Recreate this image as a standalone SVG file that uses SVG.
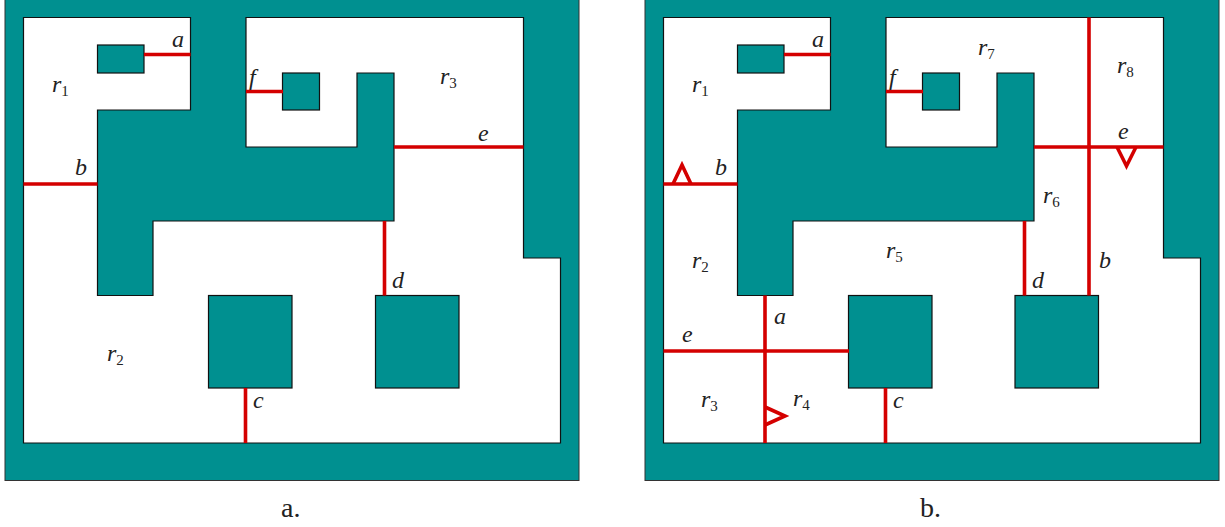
<svg xmlns="http://www.w3.org/2000/svg" width="1225" height="527" viewBox="0 0 1225 527">
<style>
.bg{fill:#009090;stroke:#333;stroke-width:1}
.hole{fill:#fff;stroke:#111;stroke-width:1.2}
.ob{fill:#009090;stroke:#111;stroke-width:1.2}
.c{fill:none;stroke:#d40000;stroke-width:3.6}
text{font-family:"Liberation Serif","Times New Roman",serif;fill:#222}
.m{font-style:italic;font-size:24px}
.s{font-style:normal;font-size:15px}
.cap{font-size:28px}
</style>
<defs>
<path id="free" d="M23.500 17.500H190.500V110H97.500V295.500H153V221H394V73H357V147H246V17.500H523.500V258H560.500V443H23.500Z"/>
</defs>
<g id="panel-a">
<rect class="bg" x="5" y="-2" width="574" height="482.500"/>
<use href="#free" class="hole"/>
<g id="a-o1"><rect class="ob" x="97.500" y="45" width="46.500" height="28"/></g>
<g id="a-o2"><rect class="ob" x="282.500" y="73" width="37" height="37"/></g>
<g id="a-o3"><rect class="ob" x="208.500" y="295.500" width="83.500" height="92.500"/></g>
<g id="a-o4"><rect class="ob" x="375.500" y="295.500" width="83.500" height="92.500"/></g>
</g>
<g id="panel-b">
<rect class="bg" x="645" y="-2" width="574" height="482.500"/>
<use href="#free" class="hole" x="640"/>
<g id="b-o1"><rect class="ob" x="737.500" y="45" width="46.500" height="28"/></g>
<g id="b-o2"><rect class="ob" x="922.500" y="73" width="37" height="37"/></g>
<g id="b-o3"><rect class="ob" x="848.500" y="295.500" width="83.500" height="92.500"/></g>
<g id="b-o4"><rect class="ob" x="1015" y="295.500" width="83.500" height="92.500"/></g>
</g>
<g id="connectors">
<path class="c" d="M144 54.500H190.500M23.500 184H97.500M246 91.500H283M394 147H523.500M384.500 221V295.500M245.500 388V443"/>
<path class="c" d="M784 54.500H830.500M663.500 184H737.500M886 91.500H923M1034 147H1163.500M1024.500 221V295.500M885.500 388V443M765 295.500V443M663.500 351H849M1089 17.500V295.500"/>
<path class="c" d="M673 184L682 165L691 184M765 407L785 416L765 425M1117 147L1126.500 166L1136 147"/>
</g>
<g id="labels-a">
<text class="m" x="172" y="47">a</text>
<text class="m" x="75" y="175">b</text>
<text class="m" x="249" y="85">f</text>
<text class="m" x="478" y="141">e</text>
<text class="m" x="392" y="288">d</text>
<text class="m" x="253" y="408">c</text>
<text class="m" x="52" y="92">r<tspan class="s" dy="4">1</tspan></text>
<text class="m" x="107" y="361">r<tspan class="s" dy="4">2</tspan></text>
<text class="m" x="440" y="84">r<tspan class="s" dy="4">3</tspan></text>
<text class="cap" x="281" y="517">a.</text>
</g>
<g id="labels-b">
<text class="m" x="812" y="47">a</text>
<text class="m" x="715" y="175">b</text>
<text class="m" x="889" y="85">f</text>
<text class="m" x="1118" y="139">e</text>
<text class="m" x="1032" y="288">d</text>
<text class="m" x="893" y="408">c</text>
<text class="m" x="774" y="324">a</text>
<text class="m" x="682" y="342">e</text>
<text class="m" x="1099" y="268">b</text>
<text class="m" x="692" y="92">r<tspan class="s" dy="4">1</tspan></text>
<text class="m" x="692" y="268">r<tspan class="s" dy="4">2</tspan></text>
<text class="m" x="701" y="407">r<tspan class="s" dy="4">3</tspan></text>
<text class="m" x="793" y="406">r<tspan class="s" dy="4">4</tspan></text>
<text class="m" x="886" y="258">r<tspan class="s" dy="4">5</tspan></text>
<text class="m" x="1043" y="203">r<tspan class="s" dy="4">6</tspan></text>
<text class="m" x="978" y="55">r<tspan class="s" dy="4">7</tspan></text>
<text class="m" x="1117" y="73">r<tspan class="s" dy="4">8</tspan></text>
<text class="cap" x="920" y="517">b.</text>
</g>
</svg>
